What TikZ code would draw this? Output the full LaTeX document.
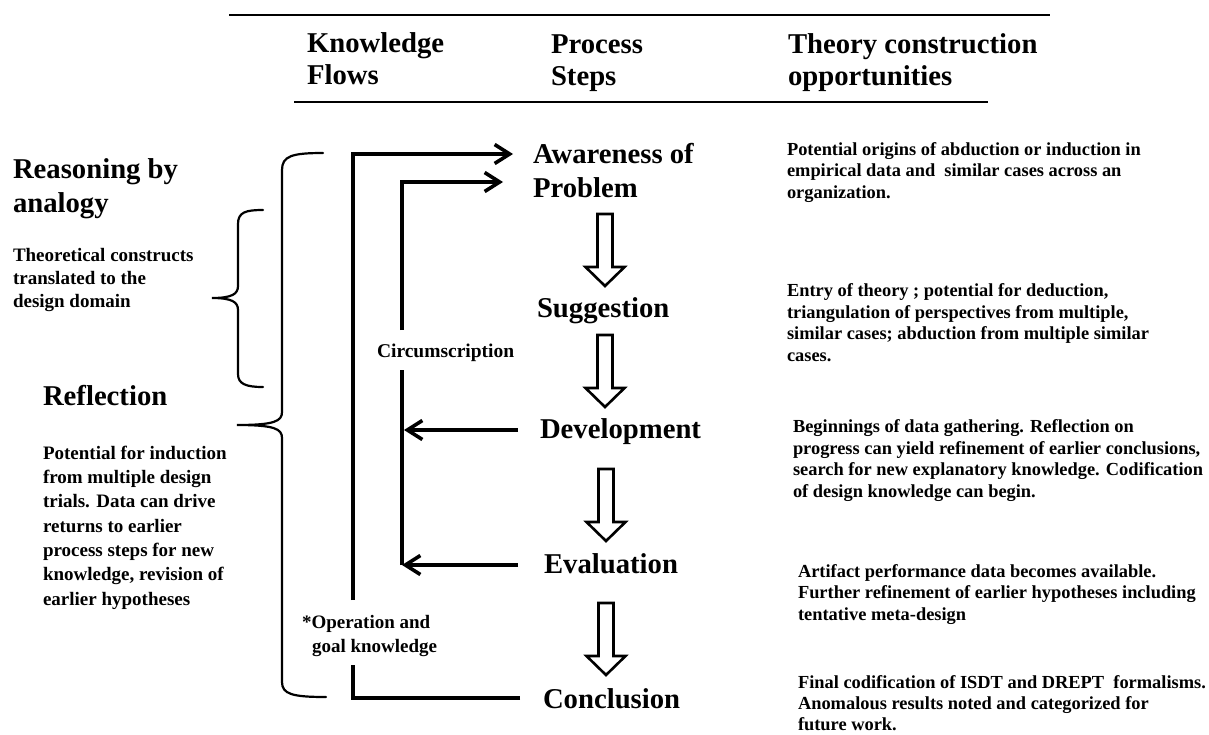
\documentclass[tikz,border=0pt]{standalone}
\usepackage{fontspec}
\setmainfont{Liberation Serif}
\usetikzlibrary{arrows.meta}
\newcommand{\fsz}[2]{\fontsize{#1pt}{#2pt}\selectfont\bfseries}
\begin{document}
\begin{tikzpicture}[x=1pt,y=-1pt,
  txt/.style={inner sep=0pt, outer sep=0pt, align=left, anchor=base west},
  hdr/.style={txt, font={\fsz{28.7}{32}}},
  stepbox/.style={txt, font={\fsz{28.7}{34}}},
  lsmall/.style={txt, font={\fsz{19}{24.3}}},
  rtext/.style={txt, font={\fsz{18.4}{21.5}}},
  flowline/.style={line width=3.6pt, line join=miter},
  flow/.style={flowline, -{Straight Barb[length=15pt,width=19pt]}},
  bracel/.style={line width=2.2pt, line cap=round},
  rule/.style={line width=2pt},
  harrow/.pic={\draw[line width=2.6pt, line join=miter, fill=white]
     (-7.5,0) -- (7.5,0) -- (7.5,53) -- (19.5,53) -- (0,72) -- (-19.5,53) -- (-7.5,53) -- cycle;}
]
\useasboundingbox[fill=white] (0,0) rectangle (1209,734);

% header rules
\draw[rule] (229,15) -- (1050,15);
\draw[line width=1.5pt] (294,102) -- (988,102);

% headers (base anchor = baseline of the last line)
\node[hdr] (kf) at (307,84) {Knowledge\\Flows};
\node[hdr] (ps) at (551,85) {Process\\Steps};
\node[hdr] (tc) at (788,85) {Theory construction\\opportunities};

% left texts
\node[txt, font={\fsz{28.7}{34}}] (rba) at (13,212) {Reasoning by\\analogy};
\node[lsmall, font={\fsz{19}{23}}] (tcd) at (13,307) {Theoretical constructs\\translated to the\\design domain};
\node[hdr] (refl) at (43,405) {Reflection};
\node[lsmall] (pfi) at (43,605) {Potential for induction\\from multiple design\\trials. Data can drive\\returns to earlier\\process steps for new\\knowledge, revision of\\earlier hypotheses};

% braces
\draw[bracel] (263,210) .. controls (246,210) and (238,212) .. (238,224) -- (238,286)
  .. controls (238,294) and (232,298) .. (212,298)
  .. controls (232,298) and (238,302) .. (238,310) -- (238,374)
  .. controls (238,384) and (246,387) .. (263,387);
\draw[bracel] (323,153) .. controls (292,153) and (282,156) .. (282,170) -- (282,412)
  .. controls (282,421) and (275,425) .. (237,425)
  .. controls (275,425) and (282,429) .. (282,438) -- (282,682)
  .. controls (282,694) and (292,697) .. (326,697);

% process steps
\node[stepbox] (aw) at (533,197) {Awareness of\\Problem};
\node[stepbox] (sg) at (537,317) {Suggestion};
\node[stepbox] (dv) at (540,438) {Development};
\node[stepbox] (ev) at (544,573) {Evaluation};
\node[stepbox] (cn) at (543,708) {Conclusion};

% hollow arrows between steps
\pic at (605,214) {harrow};
\pic at (605,335) {harrow};
\pic at (606,469) {harrow};
\pic at (606,603) {harrow};

% flow labels
\node[txt, font={\fsz{19.5}{20}}] (circ) at (377,357) {Circumscription};
\node[lsmall, font={\fsz{19}{24}}] (op) at (302,652) {*Operation and\\\hspace*{10pt}goal knowledge};

% connector points
\coordinate (awT) at (513,154);
\coordinate (awP) at (503,182);
\coordinate (cnL) at (520,698);
\coordinate (dvL) at (518,430);
\coordinate (evL) at (518,565);
\coordinate (inD) at (404,430);
\coordinate (inE) at (402,565);
\coordinate (opTop) at (353,600);
\coordinate (opBot) at (353,665);
\coordinate (ciTop) at (402,330);
\coordinate (ciBot) at (402,370);

% knowledge flows
\draw[flowline] (cnL) -| (opBot);
\draw[flow] (opTop) |- (awT);
\draw[flow] (ciTop) |- (awP);
\draw[flowline] (inE) -- (ciBot);
\draw[flow] (dvL) -- (inD);
\draw[flow] (evL) -- (inE);

% right column
\node[rtext] (t1) at (787,198) {Potential origins of abduction or induction in\\empirical data and\ \ similar cases across an\\organization.};
\node[rtext] (t2) at (787,361) {Entry of theory ; potential for deduction,\\triangulation of perspectives from multiple,\\similar cases; abduction from multiple similar\\cases.};
\node[rtext] (t3) at (793,497) {Beginnings of data gathering. Reflection on\\progress can yield refinement of earlier conclusions,\\search for new explanatory knowledge. Codification\\of design knowledge can begin.};
\node[rtext] (t4) at (798,620) {Artifact performance data becomes available.\\Further refinement of earlier hypotheses including\\tentative meta-design};
\node[rtext, font={\fsz{18.4}{21}}] (t5) at (798,730) {Final codification of ISDT and DREPT\ \ formalisms.\\Anomalous results noted and categorized for\\future work.};
\end{tikzpicture}
\end{document}
